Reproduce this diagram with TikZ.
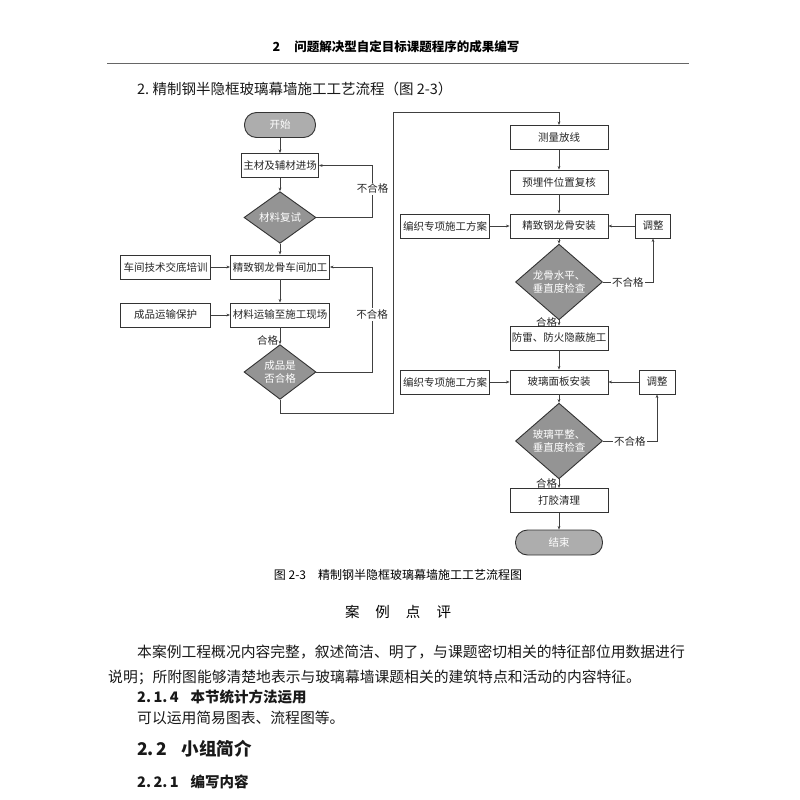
\documentclass[tikz,border=0pt]{standalone}
\usepackage{fontspec}
\setmainfont{Noto Sans CJK SC}
\usetikzlibrary{shapes.geometric,arrows.meta,positioning}
\newcommand{\fsz}[1]{\fontsize{#1pt}{#1pt}\selectfont}
\tikzset{
  flowbox/.style={draw=black!80, line width=0.9pt, fill=white, inner sep=0pt,
    minimum width=98pt, minimum height=24pt, font=\fsz{10.5}, text=black!85},
  termbox/.style={flowbox, fill=black!32, rounded corners=12pt, text=white,
    minimum height=25pt},
  checkbox/.style={diamond, draw=black!80, line width=0.9pt, fill=black!42,
    inner sep=0pt, align=center, text=white,
    font=\fontsize{10.5pt}{13.5pt}\selectfont},
  link/.style={draw=black!75, line width=0.7pt},
  go/.style={link, -{Stealth[length=3.6pt,width=2.8pt]}},
  tag/.style={font=\fsz{10.5}, text=black!85, inner sep=1.5pt},
  pagetext/.style={anchor=west, inner sep=0pt, text=black!90}
}
\begin{document}
\begin{tikzpicture}[x=1pt, y=-1pt]
  \useasboundingbox (0,0) rectangle (800,800);
  \fill[white] (0,0) rectangle (800,800);

  % page head
  \node[inner sep=0pt, font=\bfseries\fsz{12.5}] (head) at (396,47)
    {2\hspace{14pt}问题解决型自定目标课题程序的成果编写};
  \draw[black!60, line width=0.8pt] (107,63) -- (689,63);
  \node[pagetext, font=\fsz{14.5}] (title) at (137,89)
    {2.\ 精制钢半隐框玻璃幕墙施工工艺流程（图 2-3）};

  % left column
  \node[termbox, minimum width=71pt] (start) at (280,125) {开始};
  \node[flowbox, minimum width=77pt] (m1) at (280,165.5) {主材及辅材进场};
  \node[checkbox, minimum width=72pt, minimum height=50pt] (d1) at (280,217.5) {材料复试};
  \node[flowbox, minimum width=99pt] (p1) at (280,267) {精致钢龙骨车间加工};
  \node[flowbox, minimum width=99pt] (p2) at (280,315) {材料运输至施工现场};
  \node[checkbox, minimum width=72pt, minimum height=50pt] (d2) at (280,372) {成品是\\否合格};
  \node[flowbox, minimum width=90pt] (s1) at (165.5,267) {车间技术交底培训};
  \node[flowbox, minimum width=90pt] (s2) at (165.5,315) {成品运输保护};

  \coordinate (k1) at (372.5,217.5);
  \coordinate (k2) at (372,372);
  \coordinate (w1) at (280,413);
  \coordinate (w2) at (393,413);
  \coordinate (w3) at (393,112);
  \coordinate (w4) at (559,112);

  \draw[go] (start) -- (m1);
  \draw[go] (m1) -- (d1);
  \draw[go] (d1) -- (p1);
  \draw[go] (p1) -- (p2);
  \draw[go] (p2) -- node[tag, left, pos=0.8] {合格} (d2);
  \draw[go] (s1) -- (p1);
  \draw[go] (s2) -- (p2);
  \draw[go] (d1.east) -- (k1) -- node[tag, fill=white, pos=0.55] {不合格} (k1 |- m1.east) -- (m1.east);
  \draw[go] (d2.east) -- (k2) -- node[tag, fill=white, pos=0.55] {不合格} (k2 |- p1.east) -- (p1.east);

  % right column
  \node[flowbox] (r1) at (559,137.5) {测量放线};
  \node[flowbox] (r2) at (559,182) {预埋件位置复核};
  \node[flowbox] (r3) at (559,226) {精致钢龙骨安装};
  \node[checkbox, minimum width=87pt, minimum height=60pt] (d3) at (559,282) {龙骨水平、\\垂直度检查};
  \node[flowbox] (r4) at (559,338) {防雷、防火隐蔽施工};
  \node[flowbox] (r5) at (559,382) {玻璃面板安装};
  \node[checkbox, minimum width=87pt, minimum height=62pt] (d4) at (559,441) {玻璃平整、\\垂直度检查};
  \node[flowbox] (r6) at (559,500.5) {打胶清理};
  \node[termbox, minimum width=87pt] (stop) at (559,542.5) {结束};
  \node[flowbox, minimum width=89pt] (a1) at (445,226) {编织专项施工方案};
  \node[flowbox, minimum width=89pt] (a2) at (445,382) {编织专项施工方案};
  \node[flowbox, minimum width=35pt] (j1) at (653,226) {调整};
  \node[flowbox, minimum width=36pt] (j2) at (657,382) {调整};

  \draw[go] (d2.south) -- (w1) -- (w2) -- (w3) -- (w4) -- (r1.north);
  \draw[go] (r1) -- (r2);
  \draw[go] (r2) -- (r3);
  \draw[go] (r3) -- (d3);
  \draw[go] (d3) -- node[tag, left, pos=0.45] {合格} (r4);
  \draw[go] (r4) -- (r5);
  \draw[go] (r5) -- (d4);
  \draw[go] (d4) -- node[tag, left, pos=0.45] {合格} (r6);
  \draw[go] (r6) -- (stop);
  \draw[go] (a1) -- (r3);
  \draw[go] (a2) -- (r5);
  \draw[go] (j1) -- (r3);
  \draw[go] (j2) -- (r5);
  \draw[go] (d3.east) -- node[tag, fill=white] {不合格} (d3.east -| j1) -- (j1.south);
  \draw[go] (d4.east) -- node[tag, fill=white] {不合格} (d4.east -| j2) -- (j2.south);

  % caption and text below
  \node[inner sep=0pt, font=\fsz{12}] (cap) at (398,575)
    {图 2-3\hspace{12pt}精制钢半隐框玻璃幕墙施工工艺流程图};
  \node[inner sep=0pt, font=\fsz{14.5}] (review) at (398,612)
    {案\hspace{16pt}例\hspace{16pt}点\hspace{16pt}评};
  \node[pagetext, font=\fsz{14.8}] (line1) at (137,652)
    {本案例工程概况内容完整，叙述简洁、明了，与课题密切相关的特征部位用数据进行};
  \node[pagetext, font=\fsz{14.8}] (line2) at (108,677)
    {说明；所附图能够清楚地表示与玻璃幕墙课题相关的建筑特点和活动的内容特征。};
  \node[pagetext, font=\bfseries\fsz{14.5}] (sec1) at (137,697)
    {2.\,1.\,4\hspace{12pt}本节统计方法运用};
  \node[pagetext, font=\fsz{14.8}] (line3) at (137,718)
    {可以运用简易图表、流程图等。};
  \node[pagetext, font=\bfseries\fsz{17.5}] (sec2) at (137,749)
    {2.\,2\hspace{14pt}小组简介};
  \node[pagetext, font=\bfseries\fsz{14.5}] (sec3) at (137,782)
    {2.\,2.\,1\hspace{12pt}编写内容};
\end{tikzpicture}
\end{document}
